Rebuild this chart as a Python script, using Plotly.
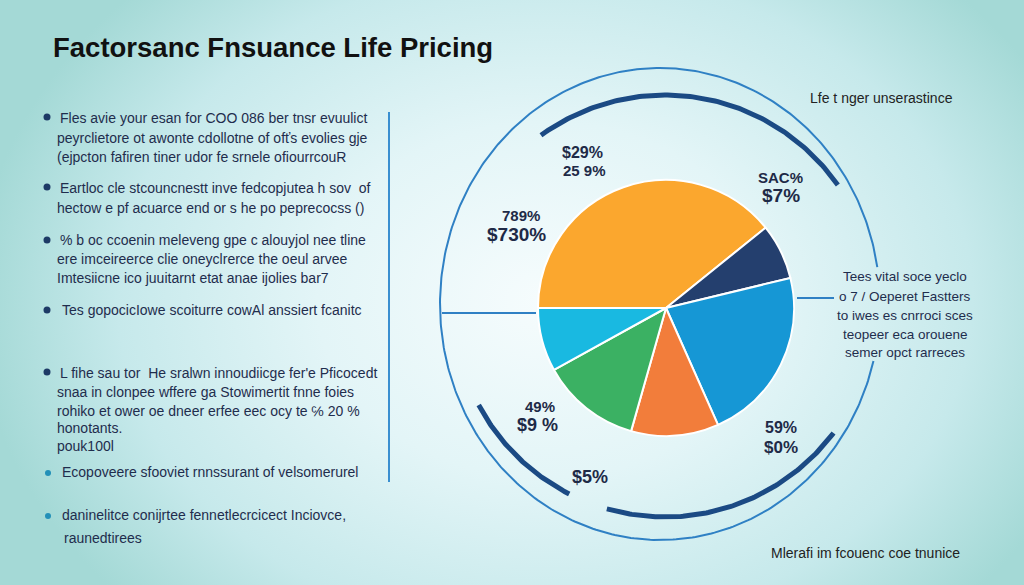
import base64
import numpy as np
import plotly.graph_objects as go

# ---------------- data ----------------
title_text = "Factorsanc Fnsuance Life Pricing"

slice_names = ["Cost factor A", "Cost factor B", "Cost factor C",
               "Cost factor D", "Cost factor E", "Cost factor F"]
slice_values = [39, 7, 22, 11, 12.5, 8]

callout_top = ["$29%", "SAC%", "789%", "49%", "59%", "$5%"]
callout_bottom = ["25 9%", "$7%", "$730%", "$9 %", "$0%", ""]

bullet_paragraphs = [
    ["Fles avie your esan for COO 086 ber tnsr evuulict",
     "peyrclietore ot awonte cdollotne of ofťs evolies gje",
     "(ejpcton fafiren tiner udor fe srnele ofiourrcouR"],
    ["Eartloc cle stcouncnestt inve fedcopjutea h sov  of",
     "hectow e pf acuarce end or s he po peprecocss ()"],
    ["% b oc ccoenin melevenɡ ɡpe c alouyjol nee tline",
     "ere imceireerce clie oneyclrerce the oeul arvee",
     "Imtesiicne ico juuitarnt etat anae ijolies bar7"],
    ["Tes gopocicIowe scoiturre cowAl anssiert fcanitc"],
    ["L fihe sau tor  He sralwn innoudiicge fer'e Pficocedt",
     "snaa in clonpee wffere ga Stowimertit fnne foies",
     "rohiko et ower oe dneer erfee eec ocy te ℅ 20 %",
     "honotants.",
     "pouk100l"],
    ["Ecopoveere sfooviet rnnssurant of velsomerurel"],
    ["daninelitce conijrtee fennetlecrcicect Inciovce,",
     "raunedtirees"],
]

side_note_top = "Lfe t nger unserastince"
side_note_lines = ["Tees vital soce yeclo", "o 7 / Oeperet Fastters",
                   "to iwes es cnrroci sces", "teopeer eca orouene",
                   "semer opct rarreces"]
footer_note = "Mlerafi im fcouenc coe tnunice"

# ---------------- styles / layout constants ----------------
W, H = 1024, 585
slice_colors = ["#FBA72E", "#243F6E", "#1697D5", "#F27D3B", "#3BB163", "#19B9E1"]
navy_text = "#1e2a47"
body_text = "#1f2d4d"
thin_blue = "#2f80c4"
thick_navy = "#1b4a84"
FONT = "Liberation Sans, Arial, sans-serif"

pie_cx, pie_cy, pie_r = 666, 308, 128

# background gradient as inline SVG
svg = f'''<svg xmlns="http://www.w3.org/2000/svg" width="{W}" height="{H}" viewBox="0 0 {W} {H}" preserveAspectRatio="none">
<defs><radialGradient id="g" cx="545" cy="300" r="570" gradientUnits="userSpaceOnUse"
 gradientTransform="translate(545 300) scale(1 0.78) translate(-545 -300)">
<stop offset="0" stop-color="#f6fcfd"/><stop offset="0.4" stop-color="#e3f5f7"/>
<stop offset="0.75" stop-color="#c6e9eb"/><stop offset="1" stop-color="#a4d9d6"/></radialGradient></defs>
<rect width="{W}" height="{H}" fill="url(#g)"/></svg>'''
bg_src = "data:image/svg+xml;base64," + base64.b64encode(svg.encode()).decode()

fig = go.Figure()


def add_line(xs, ys, color, width):
    fig.add_trace(go.Scatter(x=xs, y=ys, mode="lines", hoverinfo="skip",
                             showlegend=False,
                             line=dict(color=color, width=width)))


# thin outer ring (gap on the right for the note)
ecx, ecy, erx, ery = 660, 304, 220, 236
t = np.radians(np.linspace(9, 346, 400))
add_line(ecx + erx * np.cos(t), ecy - ery * np.sin(t), thin_blue, 2)

# thick arcs
acx, acy, ar = 665, 306, 211
for a0, a1 in [(35, 126), (208, 243), (254, 323)]:
    t = np.radians(np.linspace(a0, a1, 120))
    add_line(acx + ar * np.cos(t), acy - ar * np.sin(t), thick_navy, 5)

# connector lines
add_line([442, 536], [313, 313], thin_blue, 2)
add_line([797, 834], [298, 298], thin_blue, 2)
add_line([389, 389], [112, 482], "#3a8fd0", 2)

# bullets
bullet_y = [117, 187, 240, 310, 372, 473, 516]
fig.add_trace(go.Scatter(x=[47] * 5, y=bullet_y[:5], mode="markers",
                         hoverinfo="skip", showlegend=False,
                         marker=dict(size=7, color="#1d3a66")))
fig.add_trace(go.Scatter(x=[48] * 2, y=bullet_y[5:], mode="markers",
                         hoverinfo="skip", showlegend=False,
                         marker=dict(size=6, color="#2390b8")))

# pie
fig.add_trace(go.Pie(
    labels=slice_names, values=slice_values, sort=False, direction="clockwise",
    rotation=270, textinfo="none", hoverinfo="label+percent",
    marker=dict(colors=slice_colors, line=dict(color="white", width=2)),
    domain=dict(x=[(pie_cx - pie_r) / W, (pie_cx + pie_r) / W],
                y=[(H - pie_cy - pie_r) / H, (H - pie_cy + pie_r) / H]),
    showlegend=False))

ann = []


def text(x, y, s, size, color, anchor="left", bold=False):
    ann.append(dict(x=x, y=y, xref="x", yref="y", text=f"<b>{s}</b>" if bold else s,
                    showarrow=False, xanchor=anchor, yanchor="middle",
                    font=dict(family=FONT, size=size, color=color)))


text(51, 47, title_text, 27.5, "#111111", bold=True)

line_y = [[118, 138, 157], [188, 208], [240, 259, 278], [310],
          [373, 392, 411, 428, 446], [472], [515, 538]]
line_x = [[58, 55, 55], [58, 55], [58, 55, 55], [60], [58, 55, 55, 55, 55], [60], [60, 62]]
for para, ys, xs in zip(bullet_paragraphs, line_y, line_x):
    for s, y, x in zip(para, ys, xs):
        text(x, y, s, 14, body_text)

# pie call-outs
top_pos = [(582, 152, 16), (780, 177, 15), (521, 215, 15), (540, 406, 15), (781, 427, 16), (590, 477, 18)]
bot_pos = [(584, 170, 15), (781, 195, 19), (516, 234, 19), (537, 425, 18), (781, 447, 17), (0, 0, 1)]
for s, (x, y, fs) in zip(callout_top, top_pos):
    text(x, y, s, fs, navy_text, anchor="center", bold=True)
for s, (x, y, fs) in zip(callout_bottom, bot_pos):
    if s:
        text(x, y, s, fs, navy_text, anchor="center", bold=True)

text(881, 98, side_note_top, 14, "#222222", anchor="center")
for s, y in zip(side_note_lines, [276, 296, 315, 334, 352]):
    text(905, y, s, 13.5, body_text, anchor="center")
text(865, 553, footer_note, 14, "#222222", anchor="center")

fig.update_layout(
    width=W, height=H, margin=dict(l=0, r=0, t=0, b=0),
    paper_bgcolor="#d6eff1", plot_bgcolor="rgba(0,0,0,0)",
    xaxis=dict(range=[0, W], visible=False, domain=[0, 1], fixedrange=True),
    yaxis=dict(range=[H, 0], visible=False, domain=[0, 1], fixedrange=True),
    images=[dict(source=bg_src, xref="paper", yref="paper", x=0, y=1,
                 sizex=1, sizey=1, sizing="stretch", layer="below",
                 xanchor="left", yanchor="top")],
    annotations=ann,
)

fig.write_html("out.html",
               config={"displayModeBar": False},
               post_script="document.body.style.margin='0';"
                           "document.body.style.overflow='hidden';")
